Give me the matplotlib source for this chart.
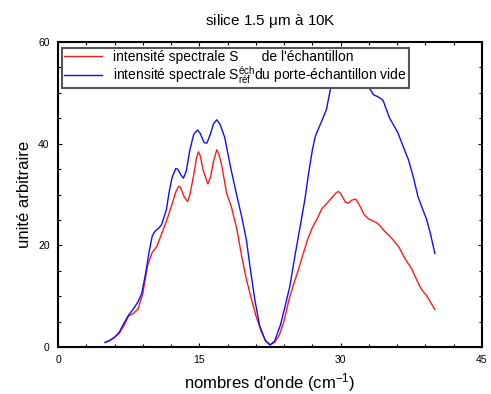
import matplotlib
matplotlib.use("Agg")
import matplotlib.pyplot as plt
from matplotlib.ticker import MultipleLocator

plt.rcParams['font.family'] = ['Liberation Sans', 'DejaVu Sans']
plt.rcParams['mathtext.fontset'] = 'custom'
plt.rcParams['mathtext.rm'] = 'Liberation Sans'
plt.rcParams['mathtext.it'] = 'Liberation Sans:italic'

# --- data ---
x_ech = [5.0, 5.5, 6.0, 6.5, 7.0, 7.5, 8.0, 8.5, 9.0, 9.5, 10.0, 10.5, 11.0, 11.5, 12.0,
         12.5, 12.8, 13.0, 13.4, 13.75, 14.0, 14.4, 14.7, 14.9, 15.1, 15.4, 15.9, 16.2,
         16.5, 16.85, 17.1, 17.4, 17.9, 18.4, 19.0, 19.5, 20.0, 20.5, 21.0, 21.5, 22.0,
         22.5, 23.0, 23.5, 24.0, 24.5, 25.0, 25.5, 26.0, 26.5, 27.0, 27.5, 28.0, 28.5,
         29.0, 29.5, 29.75, 30.0, 30.5, 30.8, 31.2, 31.6, 32.0, 32.5, 32.9, 33.4, 33.8,
         34.2, 34.7, 35.2, 35.6, 36.2, 36.7, 37.1, 37.5, 38.0, 38.4, 38.8, 39.1, 39.5, 40.0]
s_ech = [0.9, 1.3, 1.9, 2.7, 4.2, 6.1, 6.6, 7.5, 10.5, 16.0, 18.6, 19.8, 22.3, 24.7, 27.5,
         30.5, 31.6, 31.4, 29.5, 28.6, 30.0, 33.8, 37.2, 38.4, 37.6, 34.8, 32.1, 33.5,
         36.5, 38.8, 37.8, 35.5, 30.2, 27.6, 23.0, 17.8, 13.3, 9.6, 6.2, 3.4, 1.3,
         0.4, 0.9, 2.4, 5.2, 9.2, 12.3, 15.1, 18.2, 21.2, 23.5, 25.2, 27.2, 28.2,
         29.2, 30.3, 30.6, 30.2, 28.5, 28.3, 28.9, 29.1, 27.9, 26.0, 25.3, 24.8, 24.5,
         23.8, 22.7, 21.8, 21.0, 19.6, 17.8, 16.6, 15.5, 13.5, 11.9, 10.8, 10.2, 8.9, 7.4]

x_ref = [5.0, 5.5, 6.0, 6.5, 7.0, 7.5, 8.0, 8.5, 8.9, 9.3, 9.7, 10.0, 10.3, 10.7, 11.0,
         11.5, 11.8, 12.1, 12.5, 12.7, 13.0, 13.3, 13.6, 14.0, 14.4, 14.8, 15.1, 15.5,
         15.8, 16.2, 16.5, 16.85, 17.2, 17.7, 18.3, 19.0, 19.5, 20.0, 20.4, 20.9, 21.4,
         22.0, 22.5, 23.0, 23.6, 24.1, 24.6, 25.2, 25.7, 26.2, 26.6, 27.0, 27.3, 27.7,
         28.0, 28.5, 28.9, 29.1, 29.5, 30.0, 30.25, 30.6, 31.0, 31.5, 32.0, 32.6, 33.0,
         33.5, 34.0, 34.5, 35.2, 35.7, 36.1, 36.6, 37.2, 37.7, 38.2, 38.6, 39.1, 39.5, 40.0]
s_ref = [0.9, 1.3, 1.9, 2.9, 4.7, 6.3, 7.5, 8.9, 10.6, 14.5, 19.0, 21.8, 22.8, 23.4, 24.1,
         27.0, 30.5, 33.3, 35.1, 35.0, 34.0, 33.2, 34.5, 38.8, 41.8, 42.7, 42.0, 40.2,
         40.1, 42.0, 43.9, 44.7, 43.8, 41.2, 35.5, 29.6, 25.6, 21.0, 15.5, 9.2, 4.2,
         1.3, 0.4, 1.2, 4.3, 8.0, 11.9, 18.5, 23.7, 29.0, 34.2, 38.8, 41.4, 43.2,
         44.5, 46.8, 50.6, 52.8, 54.3, 53.2, 52.4, 53.2, 54.6, 55.0, 54.2, 52.5, 51.0,
         49.6, 49.2, 48.5, 45.0, 43.4, 42.0, 39.6, 36.8, 33.5, 29.6, 27.6, 25.2, 22.5, 18.4]

label_ech = "intensité spectrale S      de l'échantillon"
label_ref = r"intensité spectrale S$^{\mathrm{éch}}_{\mathrm{réf}}$du porte-échantillon vide"
title = r"silice 1.5 $\mathrm{\mu}$m à 10K"
xlabel = r"nombres d'onde (cm$^{-1}$)"
ylabel = "unité arbitraire"
xticks = [0, 15, 30, 45]
yticks = [0, 20, 40, 60]

fig = plt.figure(figsize=(4.91, 3.94), dpi=100)
ax = fig.add_axes([58/491, 1-347/394, 424/491, 305/394])

ax.plot(x_ech, s_ech, color='#ff1a1a', lw=1.0, label=label_ech)
ax.plot(x_ref, s_ref, color='#0f0fff', lw=1.0, label=label_ref)

ax.set_xlim(0, 45)
ax.set_ylim(0, 60)
ax.set_xticks(xticks)
ax.set_yticks(yticks)
ax.xaxis.set_minor_locator(MultipleLocator(3))
ax.yaxis.set_minor_locator(MultipleLocator(5))
ax.tick_params(which='both', direction='in', top=True, right=True, labelsize=7.5, width=0.8)
ax.tick_params(which='major', length=3, pad=6)
ax.tick_params(which='minor', length=2)
for s in ax.spines.values():
    s.set_linewidth(1.5)

ax.set_title(title, fontsize=11, pad=12)
ax.set_xlabel(xlabel, fontsize=12, labelpad=4)
ax.set_ylabel(ylabel, fontsize=12, labelpad=4)

leg = ax.legend(loc='upper left', bbox_to_anchor=(0.0, 0.995), fontsize=10,
                frameon=True, fancybox=False, labelspacing=0.0, handlelength=2.7,
                handletextpad=0.8, borderpad=0.15, borderaxespad=0.3)
leg.get_frame().set_edgecolor('#555555')
leg.get_frame().set_linewidth(1.5)
leg.get_frame().set_alpha(1)

fig.savefig("out.png", dpi=100)
